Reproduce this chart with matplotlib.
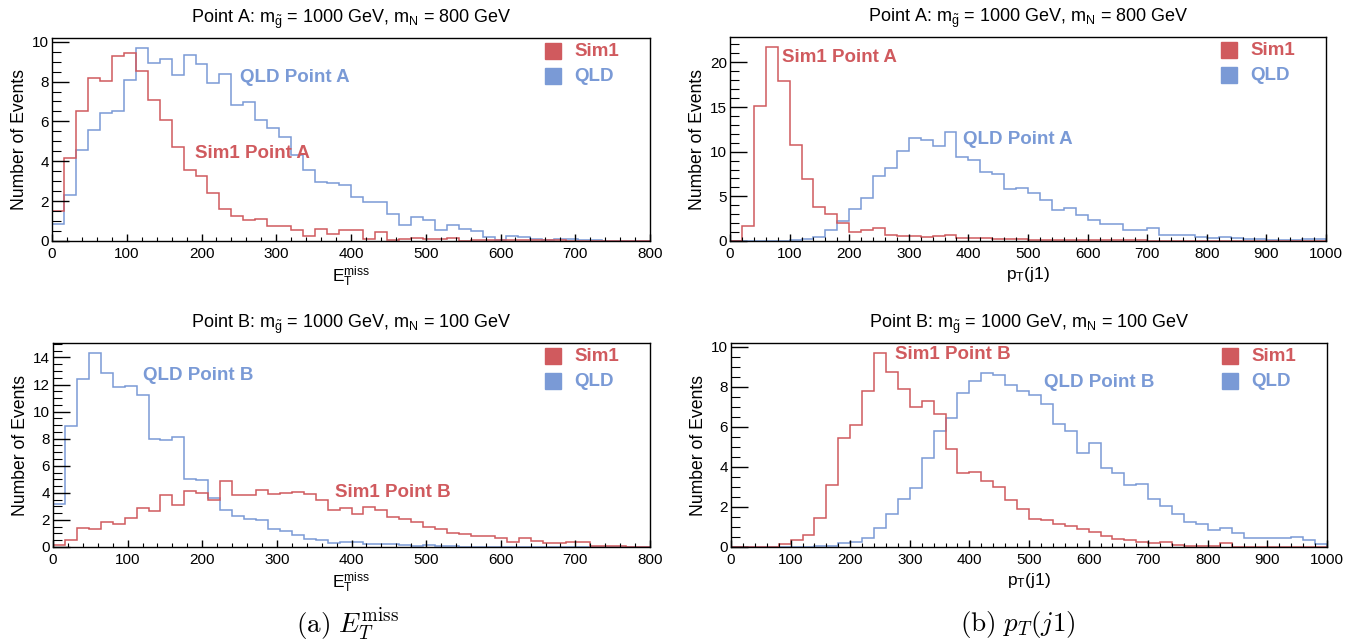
import numpy as np
import matplotlib
matplotlib.use('Agg')
import matplotlib.pyplot as plt
from matplotlib.ticker import MultipleLocator

plt.rcParams['font.family'] = ['Liberation Sans', 'DejaVu Sans']
plt.rcParams['mathtext.fontset'] = 'custom'
plt.rcParams['mathtext.rm'] = 'Liberation Sans'
plt.rcParams['mathtext.it'] = 'Liberation Sans:italic'
plt.rcParams['mathtext.bf'] = 'Liberation Sans:bold'

RED = '#d05a5e'
BLUE = '#7a9ad6'

# bin edges: MET in 16 GeV bins up to 800, leading jet pT in 20 GeV bins up to 1000
met_edges = np.linspace(0, 800, 51)
pt_edges = np.linspace(0, 1000, 51)

# Point A, missing ET
sim1_met_A = [1.5, 4.15, 6.53, 8.17, 8.03, 9.3, 9.45, 8.53, 7.07, 6.08,
              4.7, 3.58, 3.25, 2.4, 1.62, 1.23, 1.07, 1.1, 0.77, 0.77,
              0.57, 0.23, 0.6, 0.33, 0.57, 0.53, 0.1, 0.47, 0.03, 0.1,
              0.17, 0.1, 0.1, 0.17, 0.0, 0.07, 0.07, 0.05, 0.05, 0.03,
              0.05, 0.03, 0.03, 0.02, 0.02, 0.0, 0.02, 0.0, 0.0, 0.0]
qld_met_A = [0.83, 2.33, 4.57, 5.58, 6.4, 6.5, 8.07, 9.7, 8.95, 9.15,
             8.33, 9.32, 8.87, 7.92, 8.37, 6.82, 6.95, 6.08, 5.65, 5.23,
             4.32, 3.57, 2.98, 2.93, 2.83, 2.2, 1.95, 1.95, 1.37, 0.78,
             1.2, 1.03, 0.53, 0.8, 0.62, 0.5, 0.2, 0.03, 0.27, 0.2,
             0.1, 0.05, 0.1, 0.1, 0.03, 0.03, 0.02, 0.02, 0.02, 0.0]

# Point A, leading jet pT
sim1_pt_A = [0.0, 1.65, 15.1, 21.75, 17.9, 10.7, 6.95, 3.8, 3.07, 2.0,
             0.97, 1.27, 1.42, 0.64, 0.6, 0.6, 0.45, 0.52, 0.67, 0.3,
             0.37, 0.3, 0.22, 0.22, 0.22, 0.15, 0.15, 0.1, 0.12, 0.1,
             0.1, 0.1, 0.1, 0.1, 0.08, 0.05, 0.03, 0.03, 0.02, 0.02,
             0.02, 0.01, 0.01, 0.01, 0.0, 0.0, 0.0, 0.0, 0.0, 0.0]
qld_pt_A = [0.0, 0.0, 0.0, 0.0, 0.02, 0.07, 0.26, 0.45, 1.2, 2.24,
            3.63, 4.86, 7.25, 8.22, 10.1, 11.48, 11.36, 10.62, 12.19, 9.42,
            9.12, 7.74, 7.48, 5.87, 5.9, 5.38, 4.64, 3.44, 3.74, 2.88,
            2.32, 1.87, 1.87, 1.27, 1.2, 1.5, 0.67, 0.67, 0.67, 0.45,
            0.37, 0.45, 0.3, 0.22, 0.22, 0.15, 0.15, 0.07, 0.2, 0.22]

# Point B, missing ET
sim1_met_B = [0.12, 0.54, 1.43, 1.33, 1.85, 1.73, 2.12, 2.86, 2.64, 3.87,
              3.13, 4.14, 3.99, 3.5, 4.9, 3.82, 3.82, 4.19, 3.94, 3.99,
              4.04, 3.94, 3.45, 2.76, 2.86, 2.42, 2.96, 2.76, 2.22, 2.1,
              1.85, 1.48, 1.33, 1.04, 0.99, 0.84, 0.84, 0.69, 0.39, 0.69,
              0.44, 0.3, 0.3, 0.35, 0.35, 0.1, 0.1, 0.05, 0.02, 0.0]
qld_met_B = [3.15, 8.92, 12.42, 14.35, 12.87, 11.83, 11.88, 11.19, 7.99, 7.89,
             8.13, 5.05, 4.93, 3.65, 2.76, 2.27, 2.1, 1.97, 1.33, 1.16,
             0.86, 0.59, 0.54, 0.3, 0.35, 0.35, 0.2, 0.25, 0.25, 0.15,
             0.1, 0.15, 0.1, 0.1, 0.03, 0.02, 0.02, 0.01, 0.01, 0.0,
             0.0, 0.0, 0.0, 0.0, 0.0, 0.0, 0.0, 0.0, 0.0, 0.0]

# Point B, leading jet pT
sim1_pt_B = [0.0, 0.0, 0.0, 0.0, 0.13, 0.33, 0.6, 1.47, 3.12, 5.43,
             6.1, 7.8, 9.7, 8.73, 7.87, 7.0, 7.27, 6.63, 4.87, 3.7,
             3.75, 3.3, 3.0, 2.33, 1.9, 1.42, 1.33, 1.13, 1.03, 0.92,
             0.75, 0.57, 0.4, 0.33, 0.27, 0.2, 0.23, 0.1, 0.07, 0.07,
             0.03, 0.2, 0.02, 0.02, 0.02, 0.02, 0.02, 0.02, 0.02, 0.0]
qld_pt_B = [0.0, 0.0, 0.0, 0.0, 0.0, 0.0, 0.02, 0.03, 0.05, 0.2,
            0.25, 0.47, 0.95, 1.63, 2.38, 2.95, 4.43, 5.77, 6.43, 7.7,
            8.3, 8.7, 8.6, 8.07, 7.78, 7.58, 7.13, 6.13, 5.8, 4.67,
            5.17, 3.92, 3.67, 3.12, 3.17, 2.42, 2.07, 1.67, 1.25, 1.17,
            0.83, 0.97, 0.72, 0.47, 0.43, 0.43, 0.45, 0.5, 0.37, 0.17]

title_A = r'Point A: m$_{\tilde{\mathrm{g}}}$ = 1000 GeV, m$_{\mathrm{N}}$ = 800 GeV'
title_B = r'Point B: m$_{\tilde{\mathrm{g}}}$ = 1000 GeV, m$_{\mathrm{N}}$ = 100 GeV'
met_label = r'E$_{\mathrm{T}}^{\mathrm{miss}}$'
pt_label = r'p$_{\mathrm{T}}$(j1)'

W, H = 1364, 644
fig = plt.figure(figsize=(W / 100, H / 100), dpi=100)


def pad_axes(l, t, r, b):
    return fig.add_axes([l / W, 1 - b / H, (r - l) / W, (b - t) / H])


def draw_pad(ax, edges, sim1, qld, title, xlabel, xmax, ymajor, sim1_pos, qld_pos):
    ax.stairs(qld, edges, color=BLUE, lw=1.1)
    ax.stairs(sim1, edges, color=RED, lw=1.1)
    ymax = 1.05 * max(max(sim1), max(qld))
    ax.set_xlim(0, xmax)
    ax.set_ylim(0, ymax)
    ax.xaxis.set_major_locator(MultipleLocator(100))
    ax.xaxis.set_minor_locator(MultipleLocator(20))
    ax.yaxis.set_major_locator(MultipleLocator(ymajor))
    ax.yaxis.set_minor_locator(MultipleLocator(ymajor / 4 if ymajor == 2 else ymajor / 5))
    ax.tick_params(axis='y', which='major', direction='in', length=12, width=1, labelsize=11, pad=2)
    ax.tick_params(axis='y', which='minor', direction='in', length=6.5, width=0.8)
    ax.tick_params(axis='x', which='major', direction='in', length=5, width=1, labelsize=11, pad=4)
    ax.tick_params(axis='x', which='minor', direction='in', length=3, width=0.8)
    for s in ax.spines.values():
        s.set_linewidth(1.0)
    ax.set_title(title, fontsize=13, pad=11)
    ax.set_xlabel(xlabel, fontsize=12.5, labelpad=3)
    ax.set_ylabel('Number of Events', fontsize=12.7, labelpad=3)
    ax.text(sim1_pos[0], sim1_pos[1], 'Sim1 ' + title.split(':')[0], color=RED,
            fontsize=13.5, fontweight='bold', va='center')
    ax.text(qld_pos[0], qld_pos[1], 'QLD ' + title.split(':')[0], color=BLUE,
            fontsize=13.5, fontweight='bold', va='center')
    # legend boxes
    for yy, col, name in [(0.935, RED, 'Sim1'), (0.812, BLUE, 'QLD')]:
        ax.plot([0.837], [yy], marker='s', ms=11, color=col, ls='none',
                transform=ax.transAxes, clip_on=False)
        ax.text(0.873, yy, name, color=col, fontsize=13.5, fontweight='bold',
                va='center', transform=ax.transAxes)


ax1 = pad_axes(52, 38, 650, 241)
draw_pad(ax1, met_edges, sim1_met_A, qld_met_A, title_A, met_label, 800, 2,
         (191, 4.4), (251, 8.2))
ax2 = pad_axes(730, 37, 1326, 241)
draw_pad(ax2, pt_edges, sim1_pt_A, qld_pt_A, title_A, pt_label, 1000, 5,
         (87, 20.5), (391, 11.4))
ax3 = pad_axes(53, 343, 650, 547)
draw_pad(ax3, met_edges, sim1_met_B, qld_met_B, title_B, met_label, 800, 2,
         (378, 4.0), (121, 12.7))
ax4 = pad_axes(731, 343, 1327, 547)
draw_pad(ax4, pt_edges, sim1_pt_B, qld_pt_B, title_B, pt_label, 1000, 2,
         (275, 9.6), (526, 8.2))

fig.text(348 / W, 1 - 625 / H, r'$\mathrm{(a)}\ E_T^{\mathrm{miss}}$', math_fontfamily='cm',
         fontsize=19.5, ha='center', va='center')
fig.text(1018 / W, 1 - 625 / H, r'$\mathrm{(b)}\ p_T(j1)$', math_fontfamily='cm',
         fontsize=19.5, ha='center', va='center')

fig.savefig('out.png', dpi=100)
